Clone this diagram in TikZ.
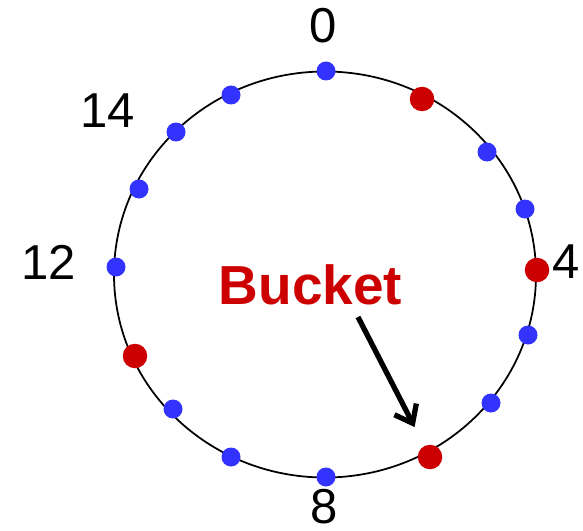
\documentclass[tikz,border=0pt]{standalone}
\usepackage{fontspec}
\setmainfont{Liberation Sans}
\usepackage{tikz}
\usetikzlibrary{positioning, calc, arrows.meta}
\definecolor{cblue}{HTML}{3333FF}
\definecolor{cred}{HTML}{CC0000}
\tikzset{
  slot/.style={circle, fill=cblue, inner sep=0pt, minimum size=3.8mm},
  slotred/.style={circle, fill=cred, inner sep=0pt, minimum size=4.9mm},
  idx/.style={inner sep=0pt, font=\fontsize{27.9}{33}\selectfont},
}

\begin{document}
\begin{tikzpicture}[x=0.2mm, y=0.2mm]
\useasboundingbox (0,0) rectangle (583,530);

\draw[black, line width=1pt] (325,255.5) ellipse [x radius=211, y radius=203];

\foreach \n/\x/\y/\s in {0/326/459/slot, 1/422/431/slotred, 2/487/378/slot,
    3/525/321/slot, 4/537/260/slotred, 5/528/195/slot, 6/491/127/slot,
    7/430/73/slotred, 8/326/53/slot, 9/231/73/slot, 10/173/121/slot,
    11/135/174/slotred, 12/116/263/slot, 13/139/341/slot, 14/176/398/slot,
    15/231/435/slot} {
  \node[\s] (p\n) at (\x,\y) {};
}

\node[idx] (l0) at (323,504) {0};
\node[idx] (l4) at (566,268) {4};
\node[idx] (l8) at (324,23.5) {8};
\node[idx] (l12) at (49,268) {12};
\node[idx] (l14) at (108,419) {14};

\node[inner sep=0pt, text=cred, font=\fontsize{31.3}{37}\selectfont\bfseries] (bucket) at (310.5,245.5) {Bucket};

\coordinate (arrowstart) at (358,213);
\draw[line width=3pt, -{Straight Barb[length=9pt, width=14pt]}, shorten >=12]
  (arrowstart) -- (p7);

\end{tikzpicture}
\end{document}
